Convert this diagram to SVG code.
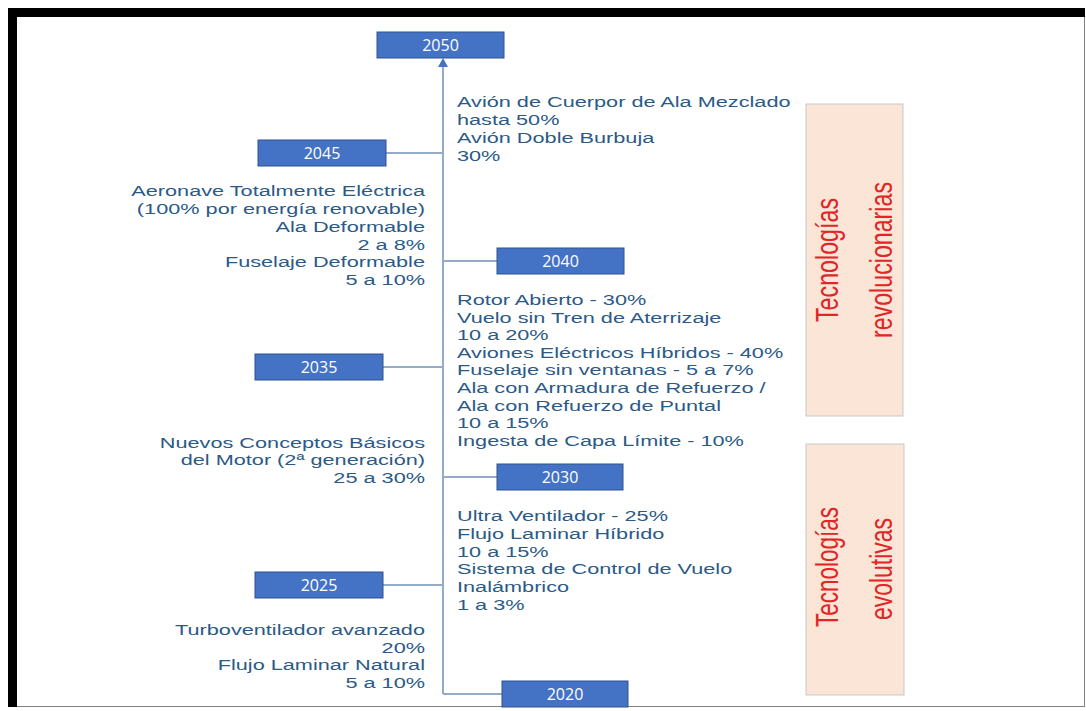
<svg xmlns="http://www.w3.org/2000/svg" width="1086" height="711" viewBox="0 0 1086 711">
<style>
.yr rect{fill:#4472C4;stroke:#2F528F;stroke-width:1}
.yr text{fill:#FFFFFF;font-family:"Open Sans","Liberation Sans",sans-serif;font-size:16px;text-anchor:middle}
.lbl{fill:#2B5A87;font-family:"Liberation Sans",Arial,sans-serif;font-size:15.5px}
.lft{text-anchor:end}
.cat rect{fill:#FBE5D6;stroke:#C9C9C9;stroke-width:1}
.cat text{fill:#E02626;font-family:"Liberation Sans",sans-serif;font-size:31px;text-anchor:middle}
.conn{stroke:#94ABC9;stroke-width:2;fill:none}
</style>
<rect x="0" y="0" width="1086" height="711" fill="#FFFFFF"/>
<g id="frame">
<rect x="8.5" y="8.5" width="1076" height="698" fill="none" stroke="#808080" stroke-width="1"/>
<rect x="8" y="8" width="1077" height="9" fill="#000000"/>
<rect x="8" y="8" width="9" height="699" fill="#000000"/>
</g>
<g id="connectors">
<path class="conn" d="M443,694 L443,62"/>
<path d="M443,58 L438,67 L448,67 Z" fill="#4472C4"/>
<path class="conn" d="M386,153 L443,153"/>
<path class="conn" d="M443,261 L497,261"/>
<path class="conn" d="M383,367 L443,367"/>
<path class="conn" d="M443,477 L497,477"/>
<path class="conn" d="M383,585 L443,585"/>
<path class="conn" d="M443,694 L502,694"/>
</g>
<g id="y2050" class="yr"><rect x="377" y="32" width="127" height="26"/><text x="440.5" y="51">2050</text></g>
<g id="y2045" class="yr"><rect x="258" y="140" width="128" height="26"/><text x="322" y="159">2045</text></g>
<g id="y2040" class="yr"><rect x="497" y="248" width="127" height="26"/><text x="560.5" y="267">2040</text></g>
<g id="y2035" class="yr"><rect x="255" y="354" width="128" height="26"/><text x="319" y="373">2035</text></g>
<g id="y2030" class="yr"><rect x="497" y="464" width="126" height="26"/><text x="560" y="483">2030</text></g>
<g id="y2025" class="yr"><rect x="255" y="572" width="128" height="26"/><text x="319" y="591">2025</text></g>
<g id="y2020" class="yr"><rect x="502" y="681" width="126" height="26"/><text x="565" y="700">2020</text></g>
<g id="t2045r" class="lbl" transform="matrix(1.4,0,0,1,-182.8,0)">
<text x="457" y="107">Avión de Cuerpor de Ala Mezclado</text>
<text x="457" y="125">hasta 50%</text>
<text x="457" y="143">Avión Doble Burbuja</text>
<text x="457" y="161">30%</text>
</g>
<g id="t2040l" class="lbl lft" transform="matrix(1.4,0,0,1,-170,0)">
<text x="425" y="196">Aeronave Totalmente Eléctrica</text>
<text x="425" y="214">(100% por energía renovable)</text>
<text x="425" y="232">Ala Deformable</text>
<text x="425" y="250">2 a 8%</text>
<text x="425" y="267.5">Fuselaje Deformable</text>
<text x="425" y="285">5 a 10%</text>
</g>
<g id="t2035r" class="lbl" transform="matrix(1.4,0,0,1,-182.8,0)">
<text x="457" y="305">Rotor Abierto - 30%</text>
<text x="457" y="322.6">Vuelo sin Tren de Aterrizaje</text>
<text x="457" y="340.2">10 a 20%</text>
<text x="457" y="357.8">Aviones Eléctricos Híbridos - 40%</text>
<text x="457" y="375.4">Fuselaje sin ventanas - 5 a 7%</text>
<text x="457" y="393">Ala con Armadura de Refuerzo /</text>
<text x="457" y="410.6">Ala con Refuerzo de Puntal</text>
<text x="457" y="428.2">10 a 15%</text>
<text x="457" y="445.8">Ingesta de Capa Límite - 10%</text>
</g>
<g id="t2030l" class="lbl lft" transform="matrix(1.4,0,0,1,-170,0)">
<text x="425" y="448">Nuevos Conceptos Básicos</text>
<text x="425" y="465.5">del Motor (2ª generación)</text>
<text x="425" y="483">25 a 30%</text>
</g>
<g id="t2025r" class="lbl" transform="matrix(1.4,0,0,1,-182.8,0)">
<text x="457" y="521">Ultra Ventilador - 25%</text>
<text x="457" y="538.8">Flujo Laminar Híbrido</text>
<text x="457" y="556.6">10 a 15%</text>
<text x="457" y="574.4">Sistema de Control de Vuelo</text>
<text x="457" y="592.2">Inalámbrico</text>
<text x="457" y="610">1 a 3%</text>
</g>
<g id="t2020l" class="lbl lft" transform="matrix(1.4,0,0,1,-170,0)">
<text x="425" y="635">Turboventilador avanzado</text>
<text x="425" y="653">20%</text>
<text x="425" y="670.5">Flujo Laminar Natural </text>
<text x="425" y="688">5 a 10%</text>
</g>
<g id="revolucionarias" class="cat">
<rect x="806" y="104" width="97" height="312"/>
<text transform="translate(838,260) rotate(-90)" x="0" y="0" textLength="124" lengthAdjust="spacingAndGlyphs">Tecnologías</text>
<text transform="translate(892,260) rotate(-90)" x="0" y="0" textLength="156" lengthAdjust="spacingAndGlyphs">revolucionarias</text>
</g>
<g id="evolutivas" class="cat">
<rect x="806" y="444" width="98" height="251"/>
<text transform="translate(838,567) rotate(-90)" x="0" y="0" textLength="120" lengthAdjust="spacingAndGlyphs">Tecnologías</text>
<text transform="translate(892,569) rotate(-90)" x="0" y="0" textLength="102" lengthAdjust="spacingAndGlyphs">evolutivas</text>
</g>
</svg>
